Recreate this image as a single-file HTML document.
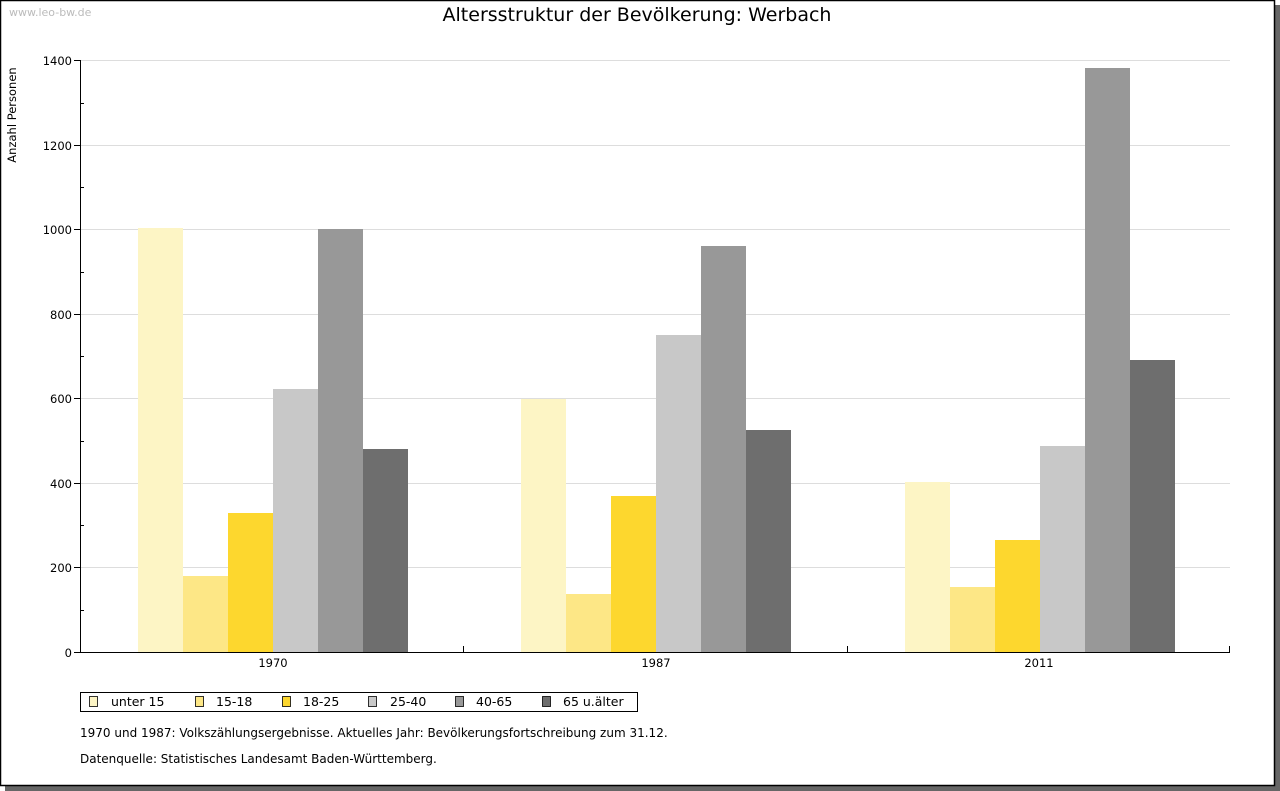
<!DOCTYPE html>
<html><head><meta charset="utf-8"><style>body{margin:0;background:#fff}svg{display:block}text{font-family:"DejaVu Sans","Liberation Sans",sans-serif}</style></head><body>
<svg width="1280" height="791" xmlns="http://www.w3.org/2000/svg">
<rect x="0" y="0" width="1280" height="791" fill="#fff"/>
<rect x="1275" y="5" width="5" height="786" fill="#666"/>
<rect x="5" y="786" width="1275" height="5" fill="#666"/>
<rect x="0.5" y="0.5" width="1274" height="785" fill="none" stroke="#000" stroke-width="1.5"/>
<text x="9" y="16" font-size="11" fill="#bbb">www.leo-bw.de</text>
<text x="637" y="21" font-size="19" text-anchor="middle" fill="#000">Altersstruktur der Bevölkerung: Werbach</text>
<text transform="translate(16,115) rotate(-90)" font-size="11.5" text-anchor="middle">Anzahl Personen</text>
<g stroke="#ddd" stroke-width="1">
<line x1="80" y1="60.5" x2="1230" y2="60.5"/><line x1="80" y1="145.5" x2="1230" y2="145.5"/><line x1="80" y1="229.5" x2="1230" y2="229.5"/><line x1="80" y1="314.5" x2="1230" y2="314.5"/><line x1="80" y1="398.5" x2="1230" y2="398.5"/><line x1="80" y1="483.5" x2="1230" y2="483.5"/><line x1="80" y1="567.5" x2="1230" y2="567.5"/>
</g>
<g font-size="11.5" text-anchor="end">
<text x="72" y="65">1400</text><text x="72" y="150">1200</text><text x="72" y="234">1000</text><text x="72" y="319">800</text><text x="72" y="403">600</text><text x="72" y="488">400</text><text x="72" y="572">200</text><text x="72" y="657">0</text>
</g>
<g>
<rect x="138" y="228" width="45" height="424" fill="#fdf5c5"/><rect x="183" y="576" width="45" height="76" fill="#fde786"/><rect x="228" y="513" width="45" height="139" fill="#fdd72e"/><rect x="273" y="389" width="45" height="263" fill="#c8c8c8"/><rect x="318" y="229" width="45" height="423" fill="#989898"/><rect x="363" y="449" width="45" height="203" fill="#6e6e6e"/>
<rect x="521" y="399" width="45" height="253" fill="#fdf5c5"/><rect x="566" y="594" width="45" height="58" fill="#fde786"/><rect x="611" y="496" width="45" height="156" fill="#fdd72e"/><rect x="656" y="335" width="45" height="317" fill="#c8c8c8"/><rect x="701" y="246" width="45" height="406" fill="#989898"/><rect x="746" y="430" width="45" height="222" fill="#6e6e6e"/>
<rect x="905" y="482" width="45" height="170" fill="#fdf5c5"/><rect x="950" y="587" width="45" height="65" fill="#fde786"/><rect x="995" y="540" width="45" height="112" fill="#fdd72e"/><rect x="1040" y="446" width="45" height="206" fill="#c8c8c8"/><rect x="1085" y="68" width="45" height="584" fill="#989898"/><rect x="1130" y="360" width="45" height="292" fill="#6e6e6e"/>
</g>
<g stroke="#000" stroke-width="1">
<line x1="80.5" y1="60" x2="80.5" y2="652"/><line x1="80" y1="652.5" x2="1230" y2="652.5"/>
<line x1="74" y1="60.5" x2="80" y2="60.5"/><line x1="74" y1="145.5" x2="80" y2="145.5"/><line x1="74" y1="229.5" x2="80" y2="229.5"/><line x1="74" y1="314.5" x2="80" y2="314.5"/><line x1="74" y1="398.5" x2="80" y2="398.5"/><line x1="74" y1="483.5" x2="80" y2="483.5"/><line x1="74" y1="567.5" x2="80" y2="567.5"/><line x1="74" y1="652.5" x2="80" y2="652.5"/>
<line x1="80" y1="103.5" x2="84" y2="103.5"/><line x1="80" y1="187.5" x2="84" y2="187.5"/><line x1="80" y1="272.5" x2="84" y2="272.5"/><line x1="80" y1="356.5" x2="84" y2="356.5"/><line x1="80" y1="441.5" x2="84" y2="441.5"/><line x1="80" y1="525.5" x2="84" y2="525.5"/><line x1="80" y1="610.5" x2="84" y2="610.5"/>
<line x1="463.5" y1="646" x2="463.5" y2="652"/><line x1="847.5" y1="646" x2="847.5" y2="652"/><line x1="1229.5" y1="646" x2="1229.5" y2="652"/>
</g>
<g font-size="11.5" text-anchor="middle"><text x="273" y="667">1970</text><text x="656" y="667">1987</text><text x="1039" y="667">2011</text></g>
<rect x="80.5" y="692.5" width="557" height="19" fill="#fff" stroke="#000"/>
<g stroke="#000" stroke-width="0.8">
<rect x="89.5" y="696.5" width="8" height="10" fill="#fdf5c5"/><rect x="195.5" y="696.5" width="8" height="10" fill="#fde786"/><rect x="282.5" y="696.5" width="8" height="10" fill="#fdd72e"/><rect x="368.5" y="696.5" width="8" height="10" fill="#c8c8c8"/><rect x="455.5" y="696.5" width="8" height="10" fill="#989898"/><rect x="542.5" y="696.5" width="8" height="10" fill="#6e6e6e"/>
</g>
<g font-size="12.5"><text x="111" y="706">unter 15</text><text x="216" y="706">15-18</text><text x="303" y="706">18-25</text><text x="390" y="706">25-40</text><text x="476" y="706">40-65</text><text x="563" y="706">65 u.älter</text></g>
<text x="80" y="737" font-size="12">1970 und 1987: Volkszählungsergebnisse. Aktuelles Jahr: Bevölkerungsfortschreibung zum 31.12.</text>
<text x="80" y="763" font-size="12">Datenquelle: Statistisches Landesamt Baden-Württemberg.</text>
</svg>
</body></html>
